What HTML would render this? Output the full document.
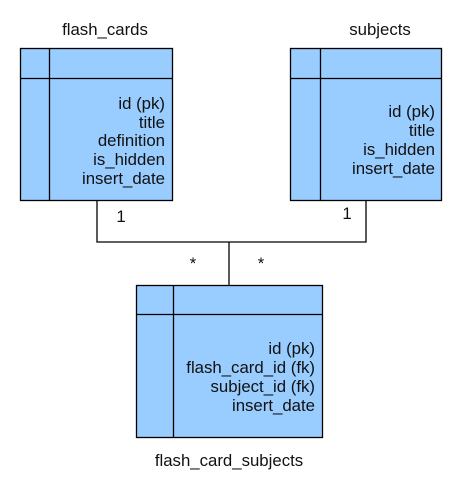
<!DOCTYPE html>
<html><head><meta charset="utf-8"><style>
body{margin:0;background:#fff;width:472px;height:479px;overflow:hidden}
svg text{font-family:"Liberation Sans",Arial,sans-serif;font-size:16.8px;fill:#111}
</style></head><body>
<svg width="472" height="479">
<g fill="none" stroke="#000" stroke-width="1.3">
<polyline points="97,200 97,242 366,242 366,200"/>
<line x1="229" y1="242" x2="229" y2="285"/>
</g>
<g>
<rect x="20.5" y="48.5" width="152" height="152" fill="#99ccff" stroke="#000" stroke-width="1.3"/>
<line x1="49.5" y1="48.5" x2="49.5" y2="200.5" stroke="#000" stroke-width="1.3"/>
<line x1="20.5" y1="78.5" x2="172.5" y2="78.5" stroke="#000" stroke-width="1.3"/>
<g text-anchor="end">
<text x="165" y="109">id (pk)</text><text x="165" y="128">title</text><text x="165" y="146">definition</text><text x="165" y="165">is_hidden</text><text x="165" y="184">insert_date</text>
</g>
</g>
<text x="105" y="35" text-anchor="middle">flash_cards</text>
<g>
<rect x="290.5" y="48.5" width="151" height="152" fill="#99ccff" stroke="#000" stroke-width="1.3"/>
<line x1="320.5" y1="48.5" x2="320.5" y2="200.5" stroke="#000" stroke-width="1.3"/>
<line x1="290.5" y1="78.5" x2="441.5" y2="78.5" stroke="#000" stroke-width="1.3"/>
<g text-anchor="end">
<text x="435" y="117">id (pk)</text><text x="435" y="136">title</text><text x="435" y="155">is_hidden</text><text x="435" y="174">insert_date</text>
</g>
</g>
<text x="380" y="35" text-anchor="middle">subjects</text>
<g>
<rect x="136.5" y="285.5" width="186" height="152" fill="#99ccff" stroke="#000" stroke-width="1.3"/>
<line x1="173.5" y1="285.5" x2="173.5" y2="437.5" stroke="#000" stroke-width="1.3"/>
<line x1="136.5" y1="314.5" x2="322.5" y2="314.5" stroke="#000" stroke-width="1.3"/>
<g text-anchor="end">
<text x="315" y="354">id (pk)</text><text x="315" y="373">flash_card_id (fk)</text><text x="315" y="392">subject_id (fk)</text><text x="315" y="411">insert_date</text>
</g>
</g>
<text x="229" y="466" text-anchor="middle">flash_card_subjects</text>
<text x="121" y="222" text-anchor="middle">1</text>
<text x="347" y="219" text-anchor="middle">1</text>
<text x="193" y="269" text-anchor="middle">*</text>
<text x="261" y="269" text-anchor="middle">*</text>
</svg>
</body></html>
